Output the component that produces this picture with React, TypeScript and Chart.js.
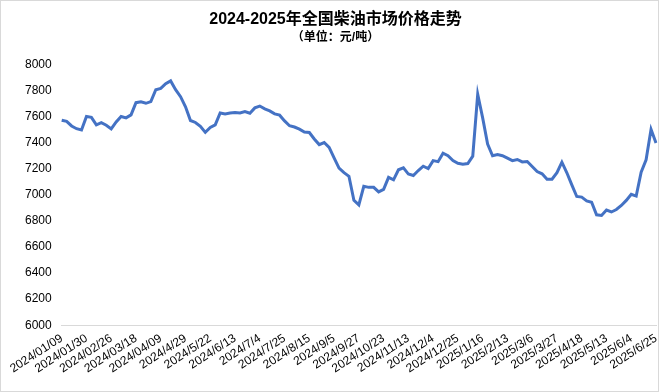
import React, { useEffect, useRef } from "react";
import { Chart, registerables } from "chart.js";

Chart.register(...registerables);

const titleText = "2024-2025年全国柴油市场价格走势";
const subtitleText = "（单位：元/吨）";

const tickLabels = [
  "2024/01/09", "2024/01/30", "2024/02/26", "2024/03/18", "2024/04/09",
  "2024/4/29", "2024/5/22", "2024/6/13", "2024/7/4", "2024/7/25",
  "2024/8/15", "2024/9/5", "2024/9/27", "2024/10/23", "2024/11/13",
  "2024/12/4", "2024/12/25", "2025/1/16", "2025/2/13", "2025/3/6",
  "2025/3/27", "2025/4/18", "2025/5/13", "2025/6/4", "2025/6/25",
];

const samplesPerTick = 5;

const prices = [
  7573, 7564, 7529, 7508, 7498, 7602, 7595, 7538, 7554, 7535,
  7506, 7560, 7602, 7591, 7614, 7708, 7714, 7703, 7716, 7807,
  7817, 7853, 7875, 7808, 7754, 7676, 7571, 7556, 7527, 7480,
  7517, 7537, 7629, 7622, 7629, 7633, 7629, 7640, 7627, 7668,
  7682, 7660, 7645, 7622, 7612, 7568, 7531, 7521, 7505, 7483,
  7479, 7429, 7386, 7402, 7364, 7284, 7205, 7171, 7143, 6959,
  6923, 7066, 7058, 7058, 7023, 7042, 7135, 7116, 7193, 7208,
  7160, 7149, 7187, 7220, 7202, 7263, 7255, 7320, 7301, 7264,
  7243, 7236, 7241, 7297, 7772, 7591, 7390, 7300, 7309, 7301,
  7282, 7263, 7272, 7253, 7256, 7218, 7179, 7162, 7120, 7120,
  7170, 7251, 7170, 7077, 6988, 6983, 6954, 6944, 6847, 6842,
  6884, 6869, 6888, 6919, 6958, 7005, 6991, 7174, 7270, 7503,
  7398,
];

const yMin = 6000;
const yMax = 8000;
const yStep = 200;

const FONT = '"Liberation Sans", Arial, "Noto Sans CJK SC", sans-serif';

export default function App() {
  const ref = useRef<HTMLCanvasElement | null>(null);

  useEffect(() => {
    const labels = prices.map((_, i) =>
      i % samplesPerTick === 0 ? tickLabels[i / samplesPerTick] ?? "" : ""
    );
    const chart = new Chart(ref.current as HTMLCanvasElement, {
      type: "line",
      data: {
        labels,
        datasets: [
          {
            data: prices,
            borderColor: "#4472C4",
            borderWidth: 3,
            pointRadius: 0,
            tension: 0,
            fill: false,
          },
        ],
      },
      options: {
        animation: false,
        responsive: false,
        maintainAspectRatio: false,
        layout: { padding: { left: 14, right: 2, top: 0, bottom: 9 } },
        plugins: {
          legend: { display: false },
          tooltip: { enabled: false },
          title: {
            display: true,
            text: titleText,
            color: "#000",
            font: { family: FONT, size: 16, weight: "bold" },
            padding: { top: 9, bottom: 1 },
          },
          subtitle: {
            display: true,
            text: subtitleText,
            color: "#000",
            font: { family: FONT, size: 12, weight: "bold" },
            padding: { top: 0, bottom: 20 },
          },
        },
        scales: {
          x: {
            grid: { display: false, drawTicks: false },
            border: { display: true, color: "#d9d9d9", width: 1 },
            afterFit: (scale: any) => {
              scale.paddingLeft = 0;
              scale.paddingRight = 0;
            },
            ticks: {
              autoSkip: false,
              maxRotation: 33,
              minRotation: 33,
              padding: 6,
              color: "#000",
              font: { family: FONT, size: 12 },
            },
          },
          y: {
            min: yMin,
            max: yMax,
            grid: { display: false, drawTicks: false },
            border: { display: false },
            ticks: {
              stepSize: yStep,
              padding: 10,
              color: "#000",
              font: { family: FONT, size: 12 },
              callback: (v: any) => String(v),
            },
          },
        },
      },
    });
    return () => chart.destroy();
  }, []);

  return (
    <div
      style={{
        position: "fixed",
        left: 0,
        top: 0,
        width: 659,
        height: 392,
        boxSizing: "border-box",
        border: "1px solid #d9d9d9",
        background: "#fff",
      }}
    >
      <canvas ref={ref} width={657} height={390} style={{ display: "block" }} />
    </div>
  );
}
